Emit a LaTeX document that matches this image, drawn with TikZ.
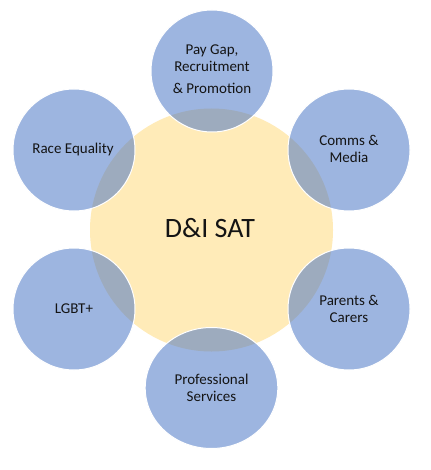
\documentclass[tikz,border=0pt]{standalone}
\usepackage{fontspec}
\setmainfont{Carlito}
\definecolor{hubfill}{HTML}{FFEBB8}
\definecolor{satblue}{HTML}{4472C4}
\definecolor{txt}{HTML}{141414}
\begin{document}
\begin{tikzpicture}[x=1pt,y=-1pt,
  hub/.style={fill=hubfill},
  sat/.style={fill=satblue,fill opacity=0.52,draw=white,line width=1pt},
  lbl/.style={text=txt,align=center,font=\fontsize{15}{17}\selectfont,inner sep=0pt}]
\useasboundingbox (0,0) rectangle (430,470);
\fill[white] (0,0) rectangle (430,470);
\path[hub] (211.5,230) circle[radius=121.5];
\path[sat] (212,71) circle[radius=61];
\path[sat] (74,150) circle[radius=61];
\path[sat] (349,150) circle[radius=61];
\path[sat] (74,309) circle[radius=61];
\path[sat] (349,309) circle[radius=61];
\path[sat] (211.5,388) ellipse[x radius=66.3,y radius=60.5];
\node[text=txt,font=\fontsize{28}{32}\selectfont,inner sep=0pt] (hubtext) at (210,228) {D\&I SAT};
\node[lbl,anchor=base] (pay1) at (212,55) {Pay Gap,};
\node[lbl,anchor=base] (pay2) at (212,72) {Recruitment};
\node[lbl,anchor=base] (pay3) at (212,94) {\& Promotion};
\node[lbl,anchor=base] (race) at (73,154) {Race Equality};
\node[lbl,anchor=base] (comms) at (349,163) {Comms \&\\Media};
\node[lbl,anchor=base] (lgbt) at (74,313) {LGBT+};
\node[lbl,anchor=base] (parents) at (349,322) {Parents \&\\Carers};
\node[lbl,anchor=base] (prof) at (211.5,401) {Professional\\Services};
\end{tikzpicture}
\end{document}
